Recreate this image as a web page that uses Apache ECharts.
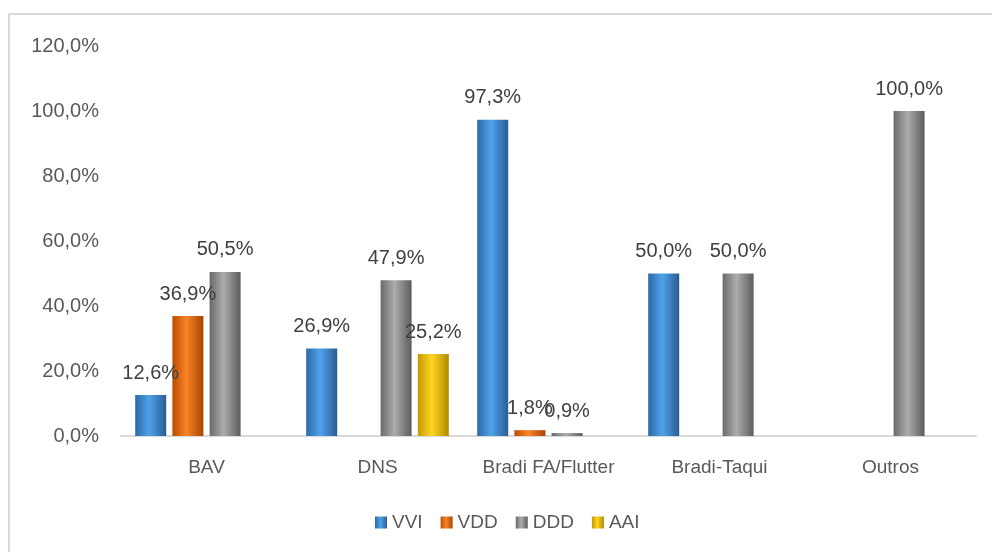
<!DOCTYPE html>
<html>
<head>
<meta charset="utf-8">
<script src="https://cdn.jsdelivr.net/npm/echarts@6/dist/echarts.min.js"></script>
<style>
  body { margin: 0; background: #fff; }
  #chart { width: 992px; height: 552px; }
</style>
</head>
<body>
<div id="chart"></div>
<script>
const categories = ['BAV', 'DNS', 'Bradi FA/Flutter', 'Bradi-Taqui', 'Outros']
const vvi = [12.6, 26.9, 97.3, 50.0, null]
const vdd = [36.9, null, 1.8, null, null]
const ddd = [50.5, 47.9, 0.9, 50.0, 100.0]
const aai = [null, 25.2, null, null, null]

const font = 'Liberation Sans'
const pct = v => v.toFixed(1).replace('.', ',') + '%'

// gradient across the bar to fake the excel bevel look
const grad = (edge, mid, edge2) => new echarts.graphic.LinearGradient(0, 0, 1, 0, [
  { offset: 0, color: edge },
  { offset: 0.45, color: mid },
  { offset: 1, color: edge2 }
])

const mkSeries = (name, data, colors, legendColor) => ({
  name: name,
  type: 'bar',
  data: data,
  barWidth: 31,
  barGap: '20%',
  color: legendColor,
  itemStyle: { color: grad(...colors) },
  label: {
    show: true,
    position: 'top',
    distance: 12,
    fontFamily: font,
    fontSize: 20,
    color: '#404040',
    formatter: p => p.value == null ? '' : pct(p.value)
  }
})

const chart = echarts.init(document.getElementById('chart'))
chart.setOption({
  animation: false,
  graphic: [{
    type: 'rect',
    shape: { x: 9, y: 14, width: 990, height: 560 },
    style: { fill: 'none', stroke: '#d9d9d9', lineWidth: 2 },
    silent: true
  }],
  grid: { left: 121, right: 16, top: 46, bottom: 116 },
  legend: {
    left: 370,
    top: 508,
    itemWidth: 12,
    itemHeight: 12,
    itemGap: 18,
    icon: 'rect',
    textStyle: { fontFamily: font, fontSize: 19, color: '#595959' },
    data: ['VVI', 'VDD', 'DDD', 'AAI']
  },
  xAxis: {
    type: 'category',
    data: categories,
    axisLine: { lineStyle: { color: '#d9d9d9', width: 2 } },
    axisTick: { show: false },
    axisLabel: { interval: 0, fontFamily: font, fontSize: 19, color: '#595959', margin: 22 }
  },
  yAxis: {
    type: 'value',
    min: 0,
    max: 120,
    interval: 20,
    splitLine: { show: false },
    axisLine: { show: false },
    axisLabel: { fontFamily: font, fontSize: 20, color: '#595959', margin: 22, formatter: pct }
  },
  series: [
    mkSeries('VVI', vvi, ['#2d68a8', '#4fa2ea', '#2a5c93'], '#3b84cc'),
    mkSeries('VDD', vdd, ['#b94c00', '#fa8428', '#a84400'], '#e36c0a'),
    mkSeries('DDD', ddd, ['#6a6a6a', '#acacac', '#5c5c5c'], '#8c8c8c'),
    mkSeries('AAI', aai, ['#c29a00', '#ffd522', '#b08a00'], '#e8b800')
  ]
})
</script>
</body>
</html>
